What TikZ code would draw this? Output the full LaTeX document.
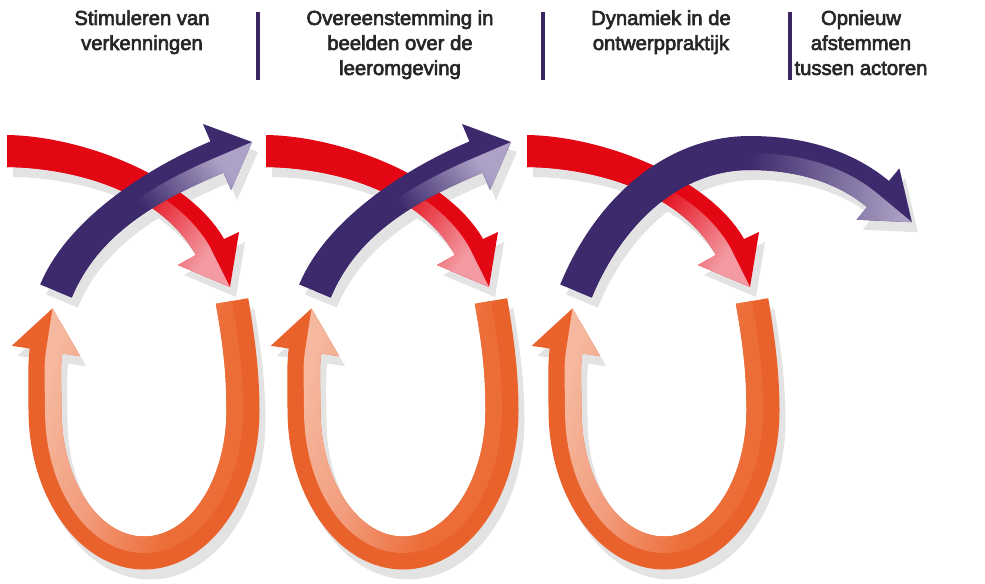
\documentclass[tikz,border=0pt]{standalone}
\usepackage{fontspec}
\newfontfamily\hdrfont{Liberation Sans}[FakeBold=3]
\definecolor{cRed}{HTML}{E30613}
\definecolor{cPink}{HTML}{F39AA2}
\definecolor{cPur}{HTML}{3D2A6C}
\definecolor{cLav}{HTML}{ADA2C6}
\definecolor{cOr}{HTML}{E9612B}
\definecolor{cSal}{HTML}{F6B89E}
\definecolor{cSalB}{HTML}{F29C7C}
\definecolor{cOrB}{HTML}{EC6D38}
\definecolor{cShadow}{HTML}{E3E3E3}
\definecolor{cText}{HTML}{262626}
\definecolor{cDiv}{HTML}{3A2462}
\pgfdeclarehorizontalshading{shRed}{100bp}{color(0bp)=(cRed); color(25bp)=(cRed); color(50bp)=(cRed); color(75bp)=(cPink); color(100bp)=(cPink)}
\pgfdeclarehorizontalshading{shPur}{100bp}{color(0bp)=(cPur); color(25bp)=(cPur); color(50bp)=(cPur); color(75bp)=(cLav); color(100bp)=(cLav)}
\pgfdeclarehorizontalshading{shOr}{100bp}{color(0bp)=(cSal); color(25bp)=(cSal); color(42bp)=(cSalB); color(62bp)=(cOrB); color(75bp)=(cOrB); color(100bp)=(cOrB)}
% shapes in local pixel coordinates of one cycle
\def\redOut{(7,135) .. controls (82,136) and (189,177) .. (224,239) -- (239,232) -- (230,287) -- (178,265) -- (196,255) .. controls (161,193) and (78,168) .. (7,167) -- cycle}
\def\redIn{(7,151) .. controls (80,152) and (175,185) .. (210,247) -- (230,287) -- (178,265) -- (196,255) .. controls (161,193) and (78,168) .. (7,167) -- cycle}
\def\purOut{(40.2,284.5) .. controls (67,219.5) and (146.4,168.4) .. (210.4,141.4) -- (203,124) -- (252,142) -- (231,190) -- (223.6,172.6) .. controls (159.6,199.6) and (98.8,232.5) .. (71.8,297.5) -- cycle}
\def\purIn{(56,291) .. controls (83,226) and (153,184) .. (217,157) -- (252,142) -- (231,190) -- (223.6,172.6) .. controls (159.6,199.6) and (98.8,232.5) .. (71.8,297.5) -- cycle}
\def\purLongOut{(40.2,284.5) .. controls (73.6,202.8) and (142.1,136) .. (230,136) .. controls (280.2,136) and (330.2,148.8) .. (368.9,180.9) -- (379.4,168.3) -- (391.9,222.2) -- (336.6,219.7) -- (347.1,207.1) .. controls (314.6,180.1) and (272.2,170) .. (230,170) .. controls (156.1,170) and (99.9,228.8) .. (71.8,297.5) -- cycle}
\def\purLongIn{(56,291) .. controls (86.7,215.8) and (149,153) .. (230,153) .. controls (276.2,153) and (322.4,164.4) .. (358,194) -- (391.9,222.2) -- (336.6,219.7) -- (347.1,207.1) .. controls (314.6,180.1) and (272.2,170) .. (230,170) .. controls (156.1,170) and (99.9,228.8) .. (71.8,297.5) -- cycle}
\def\orOut{(248.2,298.2) .. controls (254,332) and (259.5,370) .. (259.5,410) .. controls (259.5,498.1) and (207.8,569.5) .. (144,569.5) .. controls (80.2,569.5) and (28.5,498.1) .. (28.5,410) .. controls (28.5,385) and (27.5,366) .. (29.7,348.5) -- (11.8,345.8) -- (52.5,308.4) -- (80.2,356.2) -- (62.3,353.5) .. controls (60,370) and (61.5,385) .. (61.5,410) .. controls (61.5,479.9) and (98.4,536.5) .. (144,536.5) .. controls (189.6,536.5) and (226.5,479.9) .. (226.5,410) .. controls (226.5,370) and (222,338) .. (215.8,303.8) -- cycle}
\def\orIn{(232,301) .. controls (238,335) and (243,370) .. (243,410) .. controls (243,490) and (199,553) .. (144,553) .. controls (89,553) and (45,490) .. (45,410) .. controls (45,385) and (43.5,368) .. (46,351) -- (52.5,308.4) -- (80.2,356.2) -- (62.3,353.5) .. controls (60,370) and (61.5,385) .. (61.5,410) .. controls (61.5,479.9) and (98.4,536.5) .. (144,536.5) .. controls (189.6,536.5) and (226.5,479.9) .. (226.5,410) .. controls (226.5,370) and (222,338) .. (215.8,303.8) -- cycle}
\begin{document}
\begin{tikzpicture}[x=0.75pt,y=-0.75pt,
  hdr/.style={anchor=north,inner sep=0pt,align=center,text=cText,
    font=\hdrfont\fontsize{15.2pt}{18.75pt}\selectfont},
  divider/.style={draw=cDiv,line width=2.3pt},
  shadowfill/.style={fill=cShadow}]
\fill[white] (0,0) rectangle (985,583);
\useasboundingbox (0,0) rectangle (985,583);
% headers
\node[hdr] (h1) at (142,10) {Stimuleren van\\verkenningen};
\node[hdr] (h2) at (400,10) {Overeenstemming in\\beelden over de\\leeromgeving};
\node[hdr] (h3) at (661,10) {Dynamiek in de\\ontwerppraktijk};
\node[hdr] (h4) at (861,10) {Opnieuw\\afstemmen\\tussen actoren};
\draw[divider] (258,12) -- (258,80);
\draw[divider] (543,12) -- (543,80);
\draw[divider] (790,12) -- (790,80);
% shadows
\foreach \dx in {0,259,520}{
  \begin{scope}[shift={(\dx+6,10)}]
    \fill[shadowfill] \orOut;
    \fill[shadowfill] \redOut;
  \end{scope}}
\foreach \dx in {0,259}{
  \begin{scope}[shift={(\dx+6,10)}]
    \fill[shadowfill] \purOut;
  \end{scope}}
\begin{scope}[shift={(526,10)}]
  \fill[shadowfill] \purLongOut;
\end{scope}
% cycles
\foreach \dx in {0,259,520}{
  \begin{scope}[shift={(\dx,0)}]
    \fill[cOr] \orOut;
    \shade[shading=shOr,shading angle=-15] \orIn;
    \fill[cRed] \redOut;
    \shade[shading=shRed,shading angle=-35] \redIn;
  \end{scope}}
\foreach \dx in {0,259}{
  \begin{scope}[shift={(\dx,0)}]
    \fill[cPur] \purOut;
    \shade[shading=shPur,shading angle=40] \purIn;
  \end{scope}}
\begin{scope}[shift={(520,0)}]
  \fill[cPur] \purLongOut;
  \shade[shading=shPur,shading angle=-5] \purLongIn;
\end{scope}
\end{tikzpicture}
\end{document}
